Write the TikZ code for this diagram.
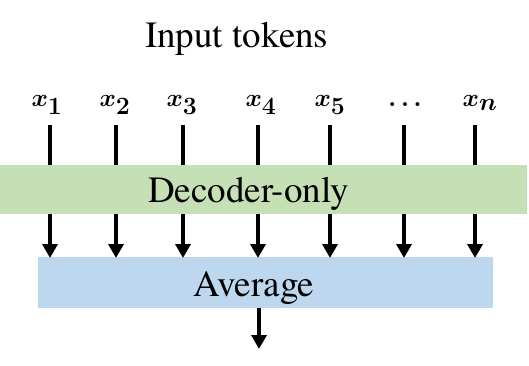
\documentclass[tikz,border=0pt]{standalone}
\usepackage{fontspec}
\setmainfont{texgyretermes-regular.otf}
\usetikzlibrary{arrows.meta}
\definecolor{decgreen}{HTML}{C5E0B4}
\definecolor{avgblue}{HTML}{BDD7EE}
\tikzset{
  band/.style={draw=none,inner sep=0pt,anchor=north west},
  txt/.style={inner sep=0pt,anchor=base,font=\fontsize{37}{40}\selectfont},
  tok/.style={inner sep=0pt,anchor=base,font=\fontsize{46}{48}\selectfont\boldmath},
  feed/.style={line width=4pt},
  flow/.style={line width=4pt,-{Triangle[width=15pt,length=14pt]},shorten >=0pt}
}
\begin{document}
\begin{tikzpicture}[x=1pt,y=-1pt]
\useasboundingbox (0,0) rectangle (529,366);
% bands
\node[band,fill=decgreen,minimum width=527pt,minimum height=49pt] (dec) at (0,165) {};
\node[band,fill=avgblue,minimum width=455pt,minimum height=51pt] (avg) at (38,257) {};
% texts
\node[txt] (title) at (237,48) {Input tokens};
\node[txt] (dectxt) at (248.5,202) {Decoder-only};
\node[txt] (avgtxt) at (254,296) {Average};
% token line tops
\foreach \i/\x in {1/50,2/116,3/183,4/258,5/330,6/404,7/475}{
  \coordinate (t\i) at (\x,125);
}
\node[tok] (l1) at (47,107) {$x_1$};
\node[tok] (l2) at (115,107) {$x_2$};
\node[tok] (l3) at (182,107) {$x_3$};
\node[tok] (l4) at (261,107) {$x_4$};
\node[tok] (l5) at (330,107) {$x_5$};
\node[tok] (l6) at (405,107) {$\dots$};
\node[tok] (l7) at (480,107) {$x_n$};
% connectors
\foreach \i in {1,...,7}{
  \draw[feed] (t\i) -- (t\i |- dec.north);
  \draw[flow] (t\i |- dec.south) -- ([yshift=-1pt]t\i |- avg.north);
}
\coordinate (out) at (259,349);
\draw[flow] (out |- avg.south) -- (out);
\end{tikzpicture}
\end{document}
